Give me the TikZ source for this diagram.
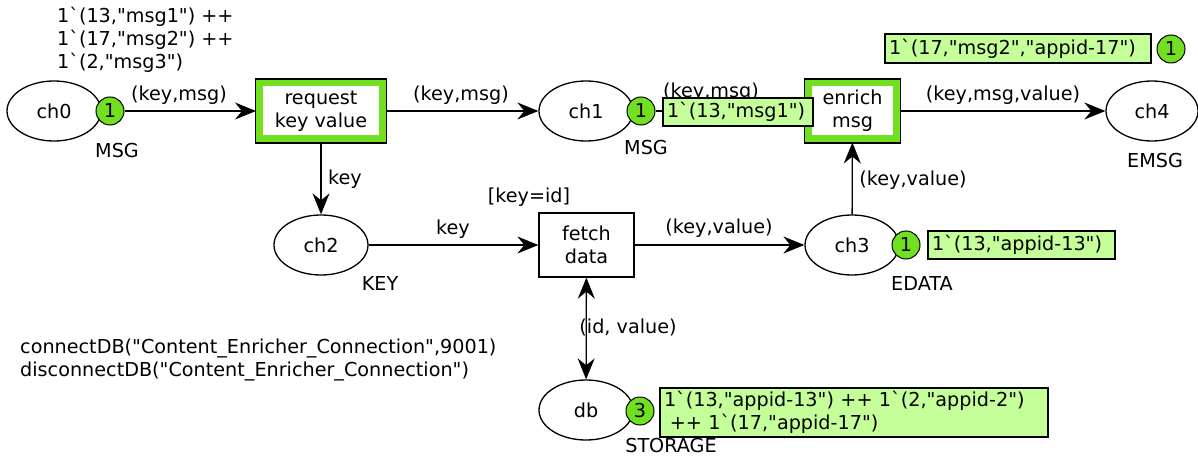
\documentclass[tikz,border=0pt]{standalone}
\usepackage{fontspec}
\newfontfamily\dv{DejaVu Sans}
\usetikzlibrary{shapes.geometric,arrows.meta}
\definecolor{tokgreen}{RGB}{112,224,32}
\definecolor{markgreen}{RGB}{196,255,153}
\newcommand{\bq}{\textasciigrave}
\begin{document}
\begin{tikzpicture}[x=1pt,y=-1pt,
  font=\dv\fontsize{19.2}{23}\selectfont,
  place/.style={ellipse, draw, line width=1.3pt, minimum width=94pt, minimum height=60pt, inner sep=0pt, fill=white},
  tok/.style={circle, draw, fill=tokgreen, line width=1pt, minimum size=28pt, inner sep=0pt},
  trans/.style={rectangle, draw, line width=1.3pt, align=center, inner sep=0pt, fill=white},
  gtrans/.style={rectangle, draw=tokgreen, line width=7pt, align=center, inner sep=0pt, fill=white},
  gframe/.style={rectangle, draw, line width=1.2pt, inner sep=0pt},
  markbox/.style={rectangle, draw, fill=markgreen, line width=1.3pt, align=left, inner xsep=4pt, inner ysep=0pt},
  lbl/.style={inner sep=0pt},
  arc/.style={-{Stealth[length=21pt,width=17pt,inset=7pt]}, line width=1.3pt},
  barc/.style={{Stealth[length=21pt,width=17pt,inset=7pt]}-{Stealth[length=21pt,width=17pt,inset=7pt]}, line width=1.3pt}
]
\useasboundingbox (0,0) rectangle (1198,457);

% places
\node[place] (ch0) at (54,111) {ch0};
\node[place] (ch1) at (586,111) {ch1};
\node[place, minimum width=92pt] (ch4) at (1152,111) {ch4};
\node[place] (ch2) at (321,245) {ch2};
\node[place] (ch3) at (852,245) {ch3};
\node[place] (db) at (586,410) {db};

% transitions
\node[gtrans, minimum width=123pt, minimum height=56pt] (req) at (321,111) {request\\key value};
\node[gframe, minimum width=131pt, minimum height=64pt] (reqf) at (req) {};
\node[gtrans, minimum width=88pt, minimum height=56pt] (enr) at (852.5,111) {enrich\\msg};
\node[gframe, minimum width=96pt, minimum height=64pt] (enrf) at (enr) {};
\node[trans, minimum width=95pt, minimum height=64pt] (fetch) at (586.5,245) {fetch\\data};

% tokens
\node[tok] (tok0) at (110,111) {1};
\node[tok] (tok1) at (641,111) {1};
\node[tok] (tok3) at (906,245) {1};
\node[tok] (tokdb) at (640,411) {3};
\node[tok] (tok4) at (1171,49) {1};

% arcs
\draw[arc] (tok0) -- (req);
\draw[arc] (req) -- (ch1);
\draw[arc] (tok1) -- (enr);
\draw[arc] (enr) -- (ch4);
\draw[arc] (req) -- (ch2);
\draw[arc] (ch2) -- (fetch);
\draw[arc] (fetch) -- (ch3);
\draw[arc] (ch3) -- (enr);
\draw[barc] (fetch) -- (db);

% arc labels
\node[lbl] (l1) at (179,95) {(key,msg)};
\node[lbl] (l2) at (461,95) {(key,msg)};
\node[lbl] (l3) at (711,92) {(key,msg)};
\node[lbl] (l4) at (1003,95) {(key,msg,value)};
\node[lbl] (l5) at (345,179) {key};
\node[lbl] (l6) at (453,229) {key};
\node[lbl] (l7) at (719,228) {(key,value)};
\node[lbl] (l8) at (913,180) {(key,value)};
\node[lbl] (l9) at (628,327) {(id, value)};
\node[lbl] (guard) at (529,197) {[key=id]};

% type labels
\node[lbl] (t0) at (117,151) {MSG};
\node[lbl] (t1) at (646,148) {MSG};
\node[lbl] (t4) at (1155,161) {EMSG};
\node[lbl] (t2) at (380,283) {KEY};
\node[lbl] (t3) at (922,283) {EDATA};
\node[lbl] (tdb) at (671,446) {STORAGE};

% initial marking and declarations
\node[lbl, anchor=west, align=left] (init0) at (57,40) {1\bq(13,"msg1") ++\\1\bq(17,"msg2") ++\\1\bq(2,"msg3")};
\node[lbl, anchor=west, align=left] (decl) at (20,360) {connectDB("Content\_Enricher\_Connection",9001)\\disconnectDB("Content\_Enricher\_Connection")};

% current markings
\node[markbox, text width=142pt, minimum height=28pt] (m1) at (738,112) {1\bq(13,"msg1")};
\node[markbox, text width=258pt, minimum height=29pt] (m4) at (1018,48.5) {1\bq(17,"msg2","appid-17")};
\node[markbox, text width=179pt, minimum height=28pt] (m3) at (1021.5,245) {1\bq(13,"appid-13")};
\node[markbox, text width=380pt, minimum height=49pt] (mdb) at (854,412.5) {1\bq(13,"appid-13") ++ 1\bq(2,"appid-2")\\\hspace*{0.3em}++ 1\bq(17,"appid-17")};
\end{tikzpicture}
\end{document}
